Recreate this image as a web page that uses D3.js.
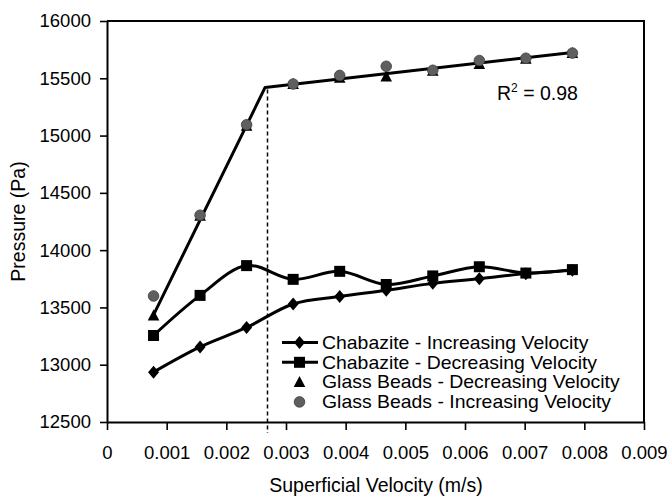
<!DOCTYPE html>
<html>
<head>
<meta charset="utf-8">
<script src="https://cdn.jsdelivr.net/npm/d3@7"></script>
<style>
  body { margin: 0; background: #fff; }
  svg { display: block; font-family: "Liberation Sans", Arial, sans-serif; }
</style>
</head>
<body>
<script>
/* ------------------------------ Data ------------------------------ */
const velocity = [0.00078, 0.00156, 0.00234, 0.00312, 0.0039, 0.00468, 0.00546, 0.00624, 0.00702, 0.0078];
const chabaziteInc = [12935, 13155, 13325, 13530, 13595, 13650, 13710, 13750, 13795, 13825];
const chabaziteDec = [13255, 13605, 13865, 13745, 13815, 13700, 13775, 13855, 13800, 13830];
const glassDec = [13430, 14300, 15085, 15450, 15505, 15515, 15565, 15625, 15670, 15720];
const glassInc = [13600, 14305, 15095, 15450, 15525, 15605, 15570, 15655, 15675, 15720];
// piecewise linear fit through the glass beads
const fitX = [0.00078, 0.00265, 0.0078];
const fitY = [13435, 15420, 15725];
const breakX = 0.00269;
const xTicks = [0, 0.001, 0.002, 0.003, 0.004, 0.005, 0.006, 0.007, 0.008, 0.009];
const xTickLabels = ["0", "0.001", "0.002", "0.003", "0.004", "0.005", "0.006", "0.007", "0.008", "0.009"];
const yTicks = [12500, 13000, 13500, 14000, 14500, 15000, 15500, 16000];
const legendLabels = [
  "Chabazite - Increasing Velocity",
  "Chabazite - Decreasing Velocity",
  "Glass Beads - Decreasing Velocity",
  "Glass Beads - Increasing Velocity"
];
const rSquared = "0.98";

/* ----------------------------- Layout ----------------------------- */
const width = 671, height = 496;
const margin = { top: 21, right: 27, bottom: 74, left: 107 };
const tickFont = "18.5px";
const titleFont = "19.5px";

const svg = d3.select("body").append("svg")
  .attr("width", width)
  .attr("height", height);

const x = d3.scaleLinear().domain([0, 0.009]).range([margin.left, width - margin.right]);
const y = d3.scaleLinear().domain([12500, 16000]).range([height - margin.bottom, margin.top]);

/* ------------------------------ Axes ------------------------------ */
// frame top + right
svg.append("path")
  .attr("d", `M${x(0)},${y(16000)}H${x(0.009)}V${y(12500)}`)
  .attr("fill", "none").attr("stroke", "#000").attr("stroke-width", 2);

const xAxis = svg.append("g")
  .attr("transform", `translate(0,${y(12500)})`)
  .call(d3.axisBottom(x).tickValues(xTicks).tickFormat((d, i) => xTickLabels[i])
    .tickSize(8).tickSizeOuter(0).tickPadding(16));

const yAxis = svg.append("g")
  .attr("transform", `translate(${x(0)},0)`)
  .call(d3.axisLeft(y).tickValues(yTicks).tickFormat(d3.format("d"))
    .tickSize(7).tickSizeOuter(0).tickPadding(9));

[xAxis, yAxis].forEach(g => {
  g.select(".domain").attr("stroke-width", 2);
  g.selectAll(".tick line").attr("stroke-width", 1.6);
  g.selectAll("text").attr("font-size", tickFont).attr("fill", "#000")
    .attr("font-family", "Liberation Sans, Arial, sans-serif");
});

svg.append("text")
  .attr("x", (x(0) + x(0.009)) / 2 + 0.5)
  .attr("y", 492)
  .attr("text-anchor", "middle")
  .attr("font-size", titleFont)
  .text("Superficial Velocity (m/s)");

svg.append("text")
  .attr("transform", `translate(25,${(y(12500) + y(16000)) / 2}) rotate(-90)`)
  .attr("text-anchor", "middle")
  .attr("font-size", titleFont)
  .text("Pressure (Pa)");

/* ------------------------------ Lines ------------------------------ */
const fitLine = d3.line().x((d, i) => x(fitX[i])).y(d => y(d));
svg.append("path")
  .attr("d", fitLine(fitY))
  .attr("fill", "none").attr("stroke", "#000").attr("stroke-width", 3)
  .attr("stroke-linejoin", "round");

svg.append("line")
  .attr("x1", x(breakX)).attr("x2", x(breakX))
  .attr("y1", y(fitY[1]) + 2).attr("y2", y(12500) + 11)
  .attr("stroke", "#000").attr("stroke-width", 1.5).attr("stroke-dasharray", "4,3");

const smooth = d3.line().x((d, i) => x(velocity[i])).y(d => y(d)).curve(d3.curveCatmullRom.alpha(0.5));
[chabaziteInc, chabaziteDec].forEach(s => {
  svg.append("path")
    .attr("d", smooth(s))
    .attr("fill", "none").attr("stroke", "#000").attr("stroke-width", 3);
});

/* ----------------------------- Markers ----------------------------- */
const markers = {
  diamond: g => g.append("path").attr("d", "M0,-6.5L5.5,0L0,6.5L-5.5,0Z").attr("fill", "#000"),
  square: g => g.append("rect").attr("x", -5.5).attr("y", -5.5).attr("width", 11).attr("height", 11).attr("fill", "#000"),
  triangle: g => g.append("path").attr("d", "M0,-6L5.8,5L-5.8,5Z").attr("fill", "#000"),
  circle: g => g.append("circle").attr("r", 5.3).attr("fill", "#5f5f5f").attr("stroke", "#3c3c3c").attr("stroke-width", 0.8)
};

const series = [
  { values: chabaziteInc, shape: "diamond", line: true },
  { values: chabaziteDec, shape: "square", line: true },
  { values: glassDec, shape: "triangle", line: false },
  { values: glassInc, shape: "circle", line: false }
];

series.forEach(s => {
  s.values.forEach((v, i) => {
    const g = svg.append("g").attr("transform", `translate(${x(velocity[i])},${y(v)})`);
    markers[s.shape](g);
  });
});

/* ------------------------------ Legend ------------------------------ */
const legend = svg.append("g").attr("transform", "translate(282,342.5)");
series.forEach((s, i) => {
  const row = legend.append("g").attr("transform", `translate(0,${i * 19.8})`);
  if (s.line) {
    row.append("line").attr("x1", 0).attr("x2", 36).attr("stroke", "#000").attr("stroke-width", 3);
  }
  markers[s.shape](row.append("g").attr("transform", "translate(17.5,0)"));
  // legend glyphs in the original are a bit wider than tall
  row.append("text")
    .attr("transform", "translate(40,0) scale(1.11,1)")
    .attr("dy", "0.36em")
    .attr("font-size", "17.5px")
    .text(legendLabels[i]);
});

/* ------------------------------ R squared ------------------------------ */
const r2 = svg.append("text").attr("x", 497).attr("y", 100).attr("font-size", titleFont);
r2.append("tspan").text("R");
r2.append("tspan").attr("font-size", "12px").attr("dy", "-8").text("2");
r2.append("tspan").attr("dy", "8").text(" = " + rSquared);
</script>
</body>
</html>
